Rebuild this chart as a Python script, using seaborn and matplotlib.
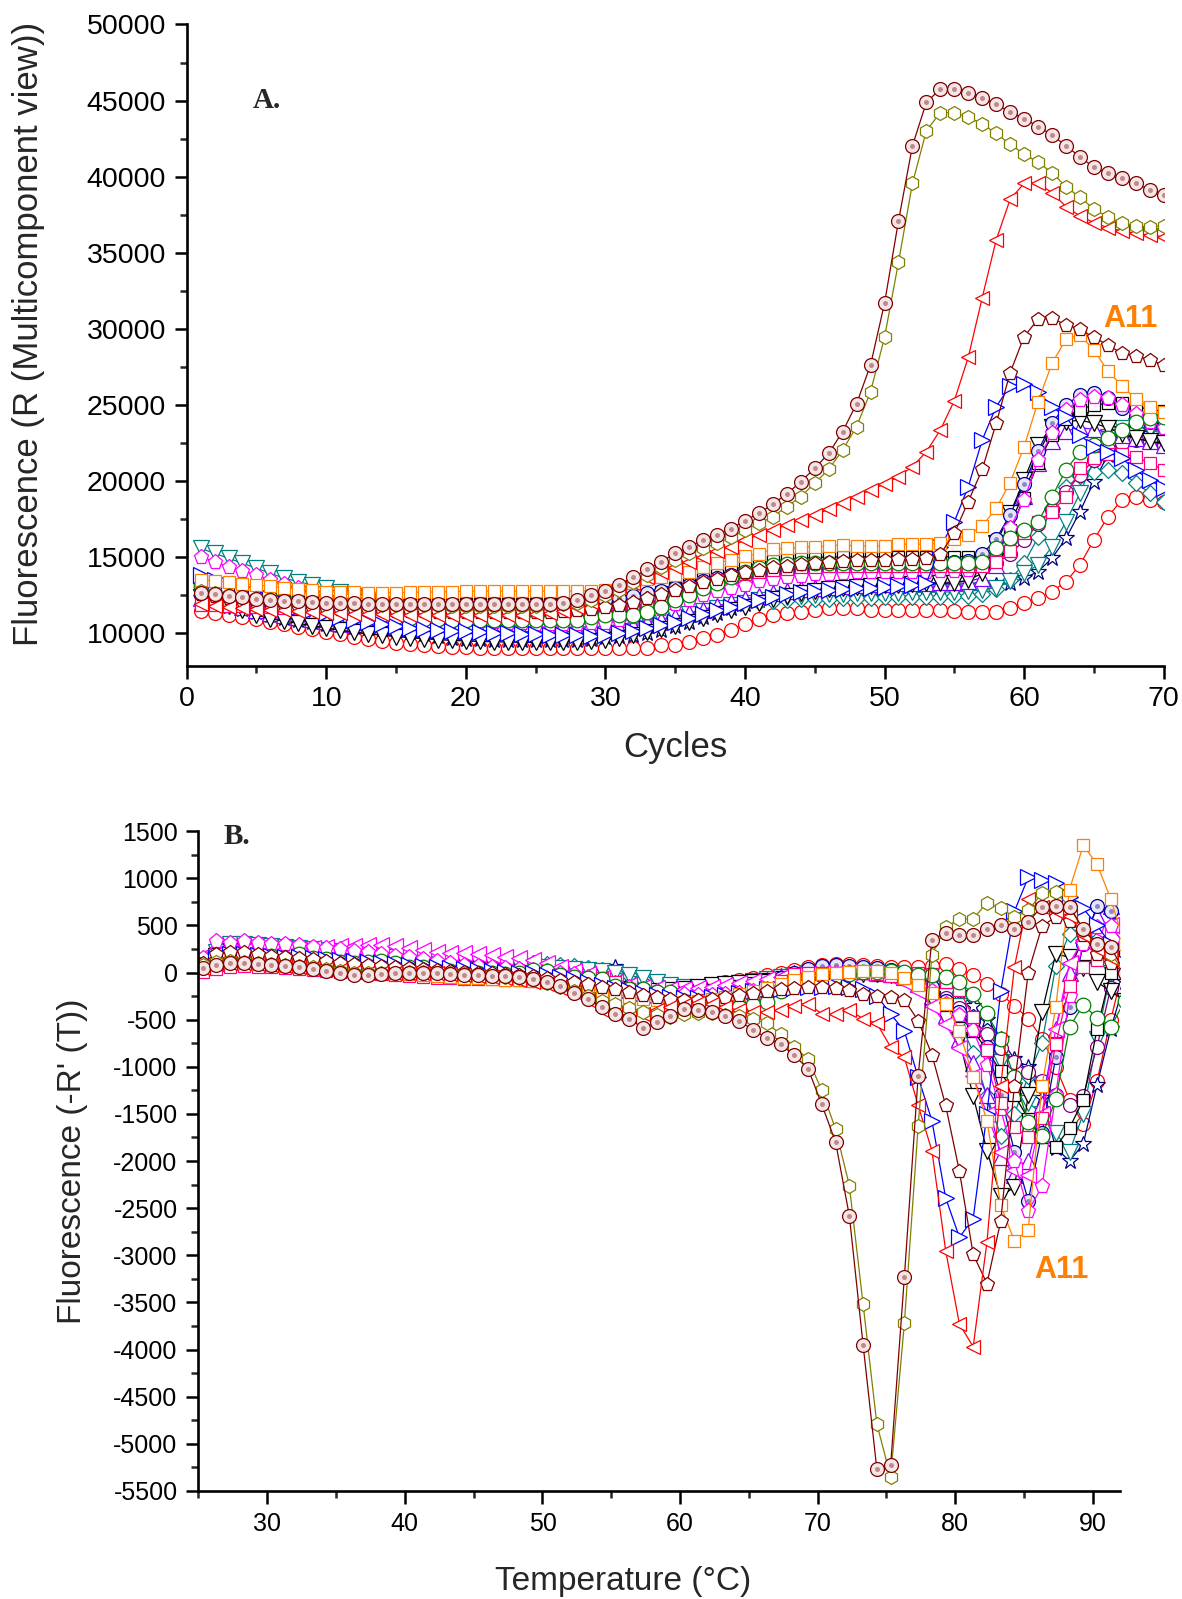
import matplotlib
matplotlib.use("Agg")
import matplotlib.pyplot as plt
from matplotlib.ticker import MultipleLocator
import seaborn as sns

sns.set_style("ticks")
plt.rcParams['font.family'] = ['Liberation Sans', 'DejaVu Sans']
plt.rcParams['axes.unicode_minus'] = False

# ---------------- Panel A data (cycles 1..70) ----------------
cycles = list(range(1, 71))

a_maroon_sphere = [
    12670, 12560, 12450, 12350, 12270, 12200, 12140, 12090, 12040, 12000,
    11980, 11960, 11950, 11940, 11930, 11920, 11920, 11910, 11910, 11900,
    11900, 11900, 11900, 11900, 11920, 11950, 12020, 12190, 12520, 12800,
    13170, 13680, 14200, 14700, 15250, 15690, 16130, 16480, 16870, 17400,
    17880, 18490, 19150, 19960, 20840, 21820, 23250, 25090, 27630, 31680,
    37090, 42030, 44890, 45760, 45760, 45480, 45150, 44770, 44230, 43810,
    43290, 42740, 42020, 41310, 40610, 40220, 39890, 39560, 39120, 38800]
a_olive_hex = [
    12800, 12650, 12520, 12400, 12300, 12220, 12150, 12090, 12040, 12000,
    11960, 11930, 11900, 11880, 11860, 11850, 11840, 11830, 11820, 11810,
    11800, 11800, 11800, 11800, 11810, 11840, 11900, 12000, 12200, 12520,
    12840, 13390, 13830, 14380, 14820, 15250, 15580, 15910, 16300, 16790,
    17220, 17660, 18320, 18980, 19850, 20770, 22040, 23580, 25870, 29440,
    34370, 39560, 43020, 44210, 44210, 43900, 43460, 42850, 42120, 41490,
    40940, 40260, 39340, 38640, 37880, 37330, 36980, 36760, 36720, 36760]
a_red_ltri = [
    11900, 11820, 11750, 11680, 11620, 11560, 11500, 11450, 11400, 11360,
    11320, 11290, 11260, 11240, 11230, 11220, 11210, 11200, 11200, 11200,
    11200, 11200, 11210, 11230, 11270, 11350, 11480, 11700, 12050, 12730,
    13020, 13330, 13720, 14050, 14380, 14710, 15030, 15430, 15690, 16130,
    16460, 16790, 17120, 17440, 17770, 18140, 18580, 18980, 19410, 19800,
    20290, 20950, 21930, 23360, 25280, 28130, 32050, 35840, 38510, 39560,
    39560, 38950, 38030, 37420, 36980, 36650, 36430, 36280, 36150, 36060]
a_maroon_pent = [
    12600, 12450, 12300, 12180, 12070, 11970, 11880, 11800, 11730, 11670,
    11620, 11580, 11540, 11500, 11470, 11450, 11430, 11410, 11400, 11400,
    11400, 11400, 11400, 11400, 11400, 11420, 11450, 11500, 11580, 11700,
    11850, 12050, 12300, 12580, 12850, 13100, 13350, 13580, 13800, 14000,
    14180, 14330, 14450, 14550, 14630, 14690, 14740, 14780, 14810, 14840,
    14870, 14900, 14950, 15200, 16570, 18650, 20770, 23790, 27120, 29490,
    30630, 30690, 30260, 29970, 29440, 28940, 28390, 28220, 27960, 27630]
a_orange_sq = [
    13500, 13450, 13390, 13240, 13170, 13080, 13000, 12930, 12850, 12740,
    12700, 12680, 12660, 12660, 12670, 12680, 12700, 12720, 12740, 12760,
    12760, 12760, 12760, 12760, 12760, 12760, 12770, 12780, 12800, 12840,
    13060, 13280, 13550, 13720, 13830, 14050, 14380, 14600, 14820, 15080,
    15210, 15520, 15580, 15650, 15690, 15740, 15800, 15740, 15740, 15740,
    15850, 15850, 15850, 15950, 16170, 16460, 17050, 18210, 19900, 22260,
    25220, 27740, 29310, 29600, 28610, 27230, 26270, 25390, 24890, 24560]
a_blue_rtri = [
    13800, 13500, 13200, 12900, 12600, 12300, 12000, 11750, 11500, 11300,
    11100, 10900, 10750, 10600, 10450, 10350, 10280, 10220, 10170, 10120,
    10080, 10040, 10000, 9960, 9930, 9900, 9880, 9860, 9850, 9900,
    10000, 10150, 10350, 10550, 10750, 11000, 11250, 11500, 11750, 12000,
    12200, 12400, 12550, 12700, 12800, 12850, 12900, 12950, 13000, 13050,
    13100, 13150, 13300, 15690, 17330, 19630, 22700, 24890, 26250, 26380,
    25880, 24890, 24190, 23030, 22260, 21900, 21500, 20730, 20070, 19520]
a_magenta_pent = [
    15040, 14710, 14380, 14120, 13830, 13500, 13220, 12960, 12670, 12410,
    12190, 11860, 11600, 11400, 11250, 11120, 11020, 10950, 10900, 10860,
    10800, 10750, 10700, 10650, 10620, 10600, 10600, 10620, 10650, 10700,
    10850, 11050, 11300, 11600, 11900, 12200, 12500, 12750, 13000, 13200,
    13400, 13550, 13680, 13780, 13860, 13920, 13960, 14000, 14020, 14040,
    14050, 14050, 14050, 14060, 14080, 14150, 14600, 15500, 16900, 18760,
    21390, 23140, 24670, 25330, 25550, 25440, 25000, 24400, 23900, 23500]
a_navy_sphere = [
    12600, 12500, 12420, 12350, 12280, 12220, 12170, 12120, 12080, 12040,
    12010, 11990, 11970, 11960, 11950, 11940, 11940, 11930, 11930, 11930,
    11930, 11930, 11930, 11940, 11950, 11970, 12000, 12050, 12120, 12200,
    12300, 12450, 12620, 12800, 13000, 13200, 13400, 13600, 13800, 13950,
    14100, 14200, 14300, 14380, 14440, 14480, 14500, 14520, 14540, 14550,
    14560, 14570, 14580, 14600, 14650, 14750, 15200, 16200, 17800, 19800,
    22000, 23800, 25000, 25660, 25810, 25440, 24780, 24300, 23900, 23600]
a_black_dtri = [
    12400, 12100, 11800, 11500, 11200, 10950, 10800, 10650, 10500, 10350,
    10200, 10080, 9970, 9870, 9780, 9700, 9640, 9580, 9530, 9490,
    9460, 9440, 9420, 9410, 9400, 9400, 9420, 9450, 9500, 9580,
    9700, 9860, 10050, 10270, 10500, 10750, 11000, 11250, 11500, 11750,
    12000, 12250, 12450, 12650, 12800, 12900, 12980, 13050, 13100, 13150,
    13200, 13250, 13280, 13280, 13300, 13500, 13940, 15910, 17880, 20070,
    22370, 23580, 23900, 24000, 23800, 23500, 23100, 22810, 22600, 22480]
a_green_circ = [
    13130, 12960, 12850, 12690, 12410, 12300, 12190, 12010, 11860, 11710,
    11580, 11420, 11310, 11200, 11090, 10980, 10950, 10920, 10880, 10870,
    10870, 10870, 10870, 10870, 10870, 10870, 10880, 10900, 11050, 11200,
    11200, 11200, 11420, 11750, 12190, 12520, 12950, 13330, 13720, 14050,
    14270, 14490, 14550, 14600, 14600, 14600, 14600, 14600, 14600, 14600,
    14600, 14600, 14600, 14600, 14600, 14620, 14700, 15580, 16240, 16790,
    17330, 18980, 20730, 21930, 22370, 22810, 23360, 23900, 24120, 24230]
a_violet_utri = [
    12300, 12100, 11900, 11700, 11520, 11350, 11200, 11050, 10920, 10800,
    10700, 10600, 10520, 10450, 10380, 10320, 10270, 10230, 10200, 10170,
    10150, 10130, 10120, 10110, 10100, 10100, 10110, 10130, 10170, 10230,
    10330, 10470, 10650, 10850, 11080, 11320, 11560, 11800, 12030, 12250,
    12450, 12620, 12770, 12890, 12990, 13070, 13130, 13180, 13220, 13250,
    13280, 13300, 13320, 13340, 13360, 13400, 13650, 14500, 16500, 19000,
    21200, 22600, 23300, 23500, 23400, 23200, 23000, 22800, 22600, 22400]
a_purple_circ = [
    12500, 12380, 12260, 12150, 12050, 11960, 11880, 11810, 11750, 11700,
    11650, 11610, 11570, 11540, 11510, 11490, 11470, 11450, 11440, 11430,
    11420, 11410, 11400, 11400, 11400, 11400, 11400, 11410, 11430, 11460,
    11530, 11650, 11820, 12050, 12300, 12560, 12800, 13050, 13280, 13500,
    13700, 13850, 13980, 14080, 14150, 14200, 14230, 14250, 14260, 14270,
    14270, 14270, 14280, 14280, 14290, 14300, 14350, 14600, 15200, 16100,
    17200, 18100, 19300, 20400, 21400, 22100, 22500, 22700, 22600, 22400]
a_crimson_sq = [
    11860, 11840, 11810, 11780, 11750, 11720, 11690, 11660, 11630, 11610,
    11590, 11570, 11560, 11540, 11530, 11520, 11510, 11500, 11500, 11490,
    11490, 11490, 11490, 11490, 11490, 11490, 11490, 11500, 11510, 11530,
    11560, 11700, 11860, 12080, 12500, 12950, 13280, 13500, 13700, 13880,
    14030, 14150, 14250, 14320, 14370, 14400, 14400, 14400, 14400, 14400,
    14400, 14400, 14400, 14400, 14400, 14400, 14450, 14700, 15400, 16570,
    17300, 17990, 18980, 20840, 21490, 21780, 21780, 21600, 21170, 20730]
a_teal_dtri = [
    15580, 15250, 14930, 14600, 14270, 13940, 13610, 13390, 13170, 12950,
    12700, 12450, 12200, 11950, 11700, 11480, 11280, 11100, 10950, 10820,
    10700, 10600, 10520, 10460, 10420, 10400, 10400, 10410, 10440, 10480,
    10550, 10650, 10780, 10930, 11100, 11280, 11470, 11660, 11850, 12020,
    12170, 12300, 12400, 12480, 12540, 12580, 12610, 12630, 12650, 12660,
    12670, 12680, 12690, 12700, 12720, 12760, 12850, 13000, 13400, 13940,
    14490, 15690, 17330, 19200, 21390, 22900, 23500, 23600, 23400, 23100]
a_teal_diam = [
    13300, 13050, 12800, 12570, 12350, 12150, 11950, 11760, 11580, 11420,
    11270, 11120, 10990, 10870, 10760, 10660, 10570, 10490, 10420, 10360,
    10310, 10270, 10240, 10220, 10210, 10210, 10220, 10250, 10290, 10350,
    10430, 10540, 10680, 10840, 11020, 11210, 11400, 11600, 11780, 11940,
    12060, 12150, 12200, 12230, 12250, 12270, 12290, 12310, 12330, 12350,
    12360, 12370, 12380, 12400, 12430, 12480, 12600, 12900, 13500, 14600,
    16300, 18200, 19600, 20300, 20600, 20700, 20500, 19900, 19200, 18600]
a_navy_star = [
    12300, 12050, 11800, 11580, 11380, 11200, 11030, 10880, 10740, 10620,
    10510, 10410, 10330, 10270, 10210, 10080, 9950, 9850, 9720, 9640,
    9600, 9570, 9560, 9560, 9560, 9560, 9560, 9570, 9620, 9780,
    9820, 9880, 10000, 10220, 10490, 10760, 11040, 11310, 11640, 11920,
    12190, 12410, 12630, 12840, 12900, 12930, 12950, 12970, 12990, 13000,
    13010, 13020, 13030, 13040, 13050, 13060, 13080, 13150, 13300, 13610,
    14050, 14930, 16240, 17990, 19960, 21710, 22810, 23030, 23360, 23360]
a_red_circ = [
    11490, 11360, 11200, 11090, 10920, 10760, 10610, 10440, 10260, 10110,
    9950, 9780, 9600, 9520, 9380, 9300, 9230, 9170, 9120, 9080,
    9060, 9010, 9010, 9010, 9010, 9010, 9010, 9010, 9010, 9010,
    9010, 9010, 9010, 9230, 9230, 9450, 9670, 9890, 10220, 10610,
    10920, 11200, 11310, 11420, 11530, 11640, 11640, 11640, 11530, 11530,
    11530, 11530, 11530, 11530, 11480, 11420, 11420, 11420, 11640, 11970,
    12300, 12740, 13390, 14490, 16130, 17660, 18760, 18980, 18760, 18650]
a_black_sq = [
    12800, 12650, 12520, 12400, 12300, 12220, 12150, 12090, 12040, 12000,
    11970, 11950, 11930, 11920, 11910, 11900, 11900, 11900, 11900, 11900,
    11900, 11900, 11900, 11900, 11900, 11900, 11900, 11920, 11950, 12000,
    12100, 12250, 12450, 12700, 12950, 13250, 13550, 13850, 14150, 14400,
    14600, 14750, 14850, 14920, 14980, 15000, 15020, 15030, 15030, 15030,
    15030, 15030, 15030, 15030, 15030, 15040, 15100, 15500, 16800, 18900,
    21200, 23000, 24100, 24700, 25000, 25100, 25100, 24900, 24700, 24600]

# ---------------- Panel B data (temperature, deg C) ----------------
temps = [25.3, 26.3, 27.3, 28.3, 29.3,
         30.3, 31.3, 32.3, 33.3, 34.3, 35.3, 36.3, 37.3, 38.3, 39.3,
         40.3, 41.3, 42.3, 43.3, 44.3, 45.3, 46.3, 47.3, 48.3, 49.3,
         50.3, 51.3, 52.3, 53.3, 54.3, 55.3, 56.3, 57.3, 58.3, 59.3,
         60.3, 61.3, 62.3, 63.3, 64.3, 65.3, 66.3, 67.3, 68.3, 69.3,
         70.3, 71.3, 72.3, 73.3, 74.3, 75.3, 76.3, 77.3, 78.3, 79.3,
         80.3, 81.3, 82.3, 83.3, 84.3, 85.3, 86.3, 87.3, 88.3, 89.3,
         90.3, 91.3, 92.3]

b_maroon_sphere = [50, 80, 100, 100, 90,
    80, 70, 60, 40, 20, 0, -30, -30, -20, -10,
    0, 0, -10, -20, -30, -30, -40, -40, -50, -70,
    -100, -140, -220, -280, -370, -440, -490, -590, -530, -460,
    -390, -400, -420, -460, -510, -610, -690, -760, -880, -1020,
    -1400, -1800, -2580, -3950, -5270, -5230, -3230, -1100, 350, 420,
    400, 400, 460, 500, 460, 540, 700, 710, 700, 460,
    300, 270, 0]
b_olive_hex = [80, 110, 120, 110, 100,
    90, 80, 70, 60, 40, 20, 0, -10, -10, 0,
    10, 10, 0, -10, -20, -30, -40, -50, -60, -80,
    -110, -150, -200, -250, -300, -330, -380, -420, -450, -470,
    -440, -430, -430, -450, -460, -490, -540, -650, -790, -920,
    -1250, -1660, -2260, -3520, -4790, -5350, -3720, -1630, 190, 480,
    570, 570, 740, 680, 590, 660, 840, 850, 700, 450,
    300, 200, 0]
b_red_ltri = [50, 90, 100, 100, 90,
    80, 70, 60, 50, 40, 30, 10, 0, 0, 0,
    0, 0, -10, -20, -30, -40, -50, -60, -80, -100,
    -120, -160, -210, -290, -400, -430, -460, -440, -400, -370,
    -340, -320, -330, -370, -400, -420, -420, -400, -360, -330,
    -440, -440, -400, -490, -540, -790, -900, -1410, -1890, -2950,
    -3730, -3970, -2860, -1200, 60, 780, 700, 650, 600, 400,
    250, 150, 0]
b_maroon_pent = [100, 200, 220, 220, 200,
    180, 160, 150, 140, 120, 100, 90, 80, 70, 60,
    50, 40, 30, 20, 10, 0, -10, -20, -30, -40,
    -60, -80, -100, -120, -150, -180, -210, -240, -260, -280,
    -290, -290, -280, -260, -240, -220, -200, -180, -160, -150,
    -150, -160, -190, -230, -250, -260, -290, -510, -870, -1410,
    -2110, -2990, -3300, -2640, -1200, 0, 490, 590, 550, 400,
    200, 100, 0]
b_orange_sq = [80, 100, 110, 100, 90,
    80, 70, 60, 50, 40, 30, 20, 10, 0, -10,
    -20, -30, -40, -50, -60, -60, -70, -80, -80, -90,
    -100, -110, -130, -160, -200, -230, -260, -280, -290, -300,
    -310, -300, -280, -260, -230, -200, -160, -120, -80, -50,
    -20, 0, 10, 20, 20, 0, -60, -130, -220, -330,
    -620, -1110, -1570, -2470, -2850, -2730, -1200, -370, 880, 1350,
    1150, 780, 300]
b_blue_rtri = [100, 150, 200, 200, 190,
    180, 170, 160, 150, 140, 130, 120, 110, 100, 90,
    80, 70, 60, 50, 40, 30, 20, 10, 0, -10,
    -30, -50, -70, -100, -130, -160, -190, -220, -240, -260,
    -270, -270, -260, -240, -220, -200, -180, -170, -160, -150,
    -150, -140, -150, -175, -245, -440, -620, -1110, -1570, -2390,
    -2810, -2610, -1500, -200, 650, 1010, 980, 950, 800, 680,
    500, 300, 100]
b_black_dtri = [100, 180, 250, 260, 250,
    230, 220, 200, 180, 160, 150, 140, 130, 120, 100,
    90, 80, 70, 60, 50, 40, 30, 20, 10, 0,
    -20, -40, -60, -90, -120, -150, -180, -200, -200, -190,
    -170, -150, -130, -120, -110, -100, -90, -80, -70, -60,
    -50, -40, -30, -20, -20, -30, -60, -130, -280, -490,
    -720, -1310, -1890, -2370, -2280, -1300, -420, 200, 160, 50,
    -100, -200, -300]
b_green_circ = [64, 143, 118, 189, 143,
    171, 154, 200, 154, 143, 107, 100, 107, 118, 100,
    64, 64, 21, 11, -7, 0, -7, -14, -7, 29,
    11, -25, -43, -61, -68, -139, -175, -175, -210, -210,
    -298, -334, -369, -422, -369, -341, -316, -192, -122, -68,
    -68, -33, -15, 2, 2, 20, 10, -22, -22, -51,
    -104, -228, -433, -705, -1112, -1590, -1732, -1343, -581, -341,
    -482, -581, -300]
b_crimson_sq = [10, 40, 60, 70, 60,
    60, 50, 40, 30, 20, 10, 0, -10, -20, -30,
    -40, -50, -60, -60, -70, -70, -70, -80, -80, -90,
    -100, -110, -120, -130, -60, -100, -180, -190, -240, -300,
    -300, -290, -390, -340, -330, -320, -260, -90, -20, 0,
    0, 0, 2, 0, -20, -40, -20, -10, -20, -100,
    -190, -470, -820, -1380, -1640, -1750, -1540, -760, -140, 60,
    130, 180, 100]
b_magenta_pent = [150, 330, 310, 330, 310,
    300, 300, 290, 270, 260, 250, 230, 220, 200, 180,
    160, 140, 120, 100, 80, 70, 60, 50, 40, 30,
    20, 0, -20, -50, -80, -110, -150, -180, -200, -220,
    -230, -240, -240, -230, -220, -200, -170, -130, -90, -50,
    -30, -10, 0, 0, -10, -30, -60, -120, -200, -330,
    -450, -610, -980, -1450, -2000, -2530, -2270, -1300, -245, 300,
    480, 490, 300]
b_magenta_ltri = [180, 200, 220, 230, 240,
    250, 250, 250, 260, 270, 280, 280, 290, 290, 280,
    260, 240, 220, 210, 210, 200, 190, 170, 150, 130,
    100, 60, 20, -20, -60, -100, -130, -150, -160, -170,
    -170, -160, -150, -130, -110, -90, -70, -50, -30, -20,
    -10, 0, 10, 0, -20, -50, -100, -200, -350, -550,
    -800, -1100, -1500, -1900, -2100, -2150, -1500, -600, 100, 350,
    450, 500, 300]
b_navy_sphere = [100, 170, 230, 240, 230,
    220, 200, 190, 170, 150, 140, 130, 120, 110, 100,
    90, 80, 70, 60, 50, 40, 30, 20, 10, 0,
    -20, -40, -70, -100, -130, -160, -190, -210, -230, -250,
    -260, -260, -250, -230, -200, -160, -110, -60, -10, 40,
    70, 80, 70, 60, 50, 30, 0, -60, -150, -300,
    -420, -510, -790, -1300, -1900, -2420, -1700, -900, -370, 300,
    710, 650, 300]
b_violet_utri = [120, 200, 250, 260, 250,
    240, 230, 220, 200, 190, 180, 170, 160, 150, 140,
    130, 120, 110, 100, 80, 60, 50, 40, 30, 20,
    0, -20, -40, -70, -100, -140, -170, -200, -220, -230,
    -230, -220, -200, -170, -140, -110, -80, -50, -20, 0,
    20, 30, 30, 20, 0, -20, -50, -120, -250, -450,
    -700, -960, -1300, -1960, -2150, -2000, -1400, -600, 0, 400,
    600, 710, 300]
b_navy_star = [120, 230, 280, 280, 270,
    260, 240, 220, 200, 190, 180, 170, 160, 150, 140,
    130, 120, 110, 100, 90, 80, 70, 60, 50, 40,
    30, 20, 10, 0, 30, 60, -50, -120, -180, -220,
    -240, -240, -230, -200, -160, -120, -80, -40, -10, 20,
    30, 40, 40, 30, 20, 10, -10, -40, -80, -140,
    -220, -350, -500, -700, -920, -1000, -1330, -1860, -2000, -1820,
    -1190, -600, -100]
b_teal_diam = [100, 180, 220, 240, 240,
    230, 220, 210, 200, 190, 180, 170, 170, 160, 160,
    150, 150, 140, 140, 130, 130, 120, 120, 110, 100,
    90, 80, 70, 50, 30, 0, -30, -70, -110, -150,
    -180, -200, -200, -180, -150, -120, -90, -60, -30, 0,
    20, 30, 40, 40, 30, 0, -50, -120, -200, -300,
    -510, -850, -1310, -1730, -1500, -1100, -750, 70, 410, 450,
    350, 250, 100]
b_teal_dtri = [120, 220, 300, 300, 290,
    280, 270, 260, 250, 240, 230, 220, 200, 180, 170,
    160, 150, 140, 130, 120, 110, 100, 90, 80, 70,
    60, 50, 40, 30, 20, 0, -30, -60, -100, -130,
    -150, -160, -150, -130, -110, -90, -70, -50, -30, -10,
    0, 10, 20, 20, 10, -10, -50, -100, -170, -250,
    -350, -500, -700, -950, -1250, -1380, -1500, -1700, -1900, -1500,
    -700, 0, 200]
b_purple_circ = [80, 150, 200, 210, 200,
    190, 180, 170, 160, 150, 140, 130, 120, 110, 100,
    90, 80, 70, 60, 50, 40, 30, 20, 10, 0,
    -20, -40, -60, -80, -110, -140, -170, -190, -210, -230,
    -240, -240, -230, -210, -180, -150, -110, -70, -30, 0,
    20, 30, 30, 20, 10, -10, -40, -90, -170, -270,
    -380, -500, -650, -800, -950, -1060, -1150, -1300, -1410, -1310,
    -790, -160, 200]
b_red_circ = [100, 130, 140, 130, 110,
    100, 90, 80, 70, 60, 50, 40, 30, 30, 20,
    20, 10, 10, 0, 0, -10, -10, -20, -20, -30,
    -40, -60, -80, -110, -140, -170, -200, -210, -200, -180,
    -160, -140, -120, -100, -80, -60, -30, 0, 30, 60,
    80, 90, 90, 80, 70, 60, 60, 60, 70, 90,
    40, -30, -120, -230, -350, -490, -700, -1000, -1350, -1610,
    -1150, -500, 100]
b_black_sq = [90, 150, 200, 220, 210,
    200, 190, 180, 170, 160, 150, 140, 130, 120, 110,
    100, 90, 80, 70, 60, 50, 40, 30, 20, 10,
    0, -20, -40, -70, -100, -130, -160, -190, -210, -220,
    -220, -210, -190, -170, -140, -110, -80, -50, -20, 0,
    10, 20, 20, 10, 0, -20, -50, -110, -200, -320,
    -460, -620, -820, -1050, -1300, -1550, -1750, -1850, -1650, -1350,
    -600, 0, 200]

# ---------------- styles (colour, marker, size, face, centre dot) ----------------
SPH_R = ('#f4e6e6', '#c08a8a')
SPH_B = ('#e6e6f6', '#8a8ac8')
styles = {
    'red_circ':      ('#FF0000', 'o', 10.0, 'white', None),
    'navy_star':     ('#000080', '*', 12.0, 'white', None),
    'teal_diam':     ('#008080', 'D', 8.5, 'white', None),
    'teal_dtri':     ('#008080', 'v', 11.0, 'white', None),
    'purple_circ':   ('#800080', 'o', 10.0, 'white', None),
    'violet_utri':   ('#8000FF', '^', 11.0, 'white', None),
    'black_dtri':    ('#000000', 'v', 11.0, 'white', None),
    'black_sq':      ('#000000', 's', 9.0, 'white', None),
    'navy_sphere':   ('#0000A0', 'o', 10.0, SPH_B[0], SPH_B[1]),
    'magenta_pent':  ('#FF00FF', 'p', 11.0, 'white', None),
    'magenta_ltri':  ('#FF00FF', '<', 11.0, 'white', None),
    'crimson_sq':    ('#FF0080', 's', 9.0, 'white', None),
    'green_circ':    ('#008000', 'o', 10.5, 'white', None),
    'blue_rtri':     ('#0000FF', '>', 11.0, 'white', None),
    'orange_sq':     ('#FF8000', 's', 8.5, 'white', None),
    'maroon_pent':   ('#800000', 'p', 10.0, 'white', None),
    'red_ltri':      ('#FF0000', '<', 10.5, 'white', None),
    'olive_hex':     ('#808000', 'h', 10.0, 'white', None),
    'maroon_sphere': ('#800000', 'o', 10.0, SPH_R[0], SPH_R[1]),
}

series_a = [
    ('red_circ', a_red_circ), ('navy_star', a_navy_star), ('teal_diam', a_teal_diam),
    ('teal_dtri', a_teal_dtri), ('purple_circ', a_purple_circ), ('violet_utri', a_violet_utri),
    ('black_dtri', a_black_dtri), ('black_sq', a_black_sq), ('navy_sphere', a_navy_sphere),
    ('magenta_pent', a_magenta_pent), ('crimson_sq', a_crimson_sq), ('green_circ', a_green_circ),
    ('blue_rtri', a_blue_rtri), ('orange_sq', a_orange_sq), ('maroon_pent', a_maroon_pent),
    ('red_ltri', a_red_ltri), ('olive_hex', a_olive_hex), ('maroon_sphere', a_maroon_sphere),
]
series_b = [
    ('red_circ', b_red_circ), ('navy_star', b_navy_star), ('teal_diam', b_teal_diam),
    ('teal_dtri', b_teal_dtri), ('purple_circ', b_purple_circ), ('violet_utri', b_violet_utri),
    ('black_dtri', b_black_dtri), ('black_sq', b_black_sq), ('navy_sphere', b_navy_sphere),
    ('magenta_ltri', b_magenta_ltri), ('magenta_pent', b_magenta_pent), ('crimson_sq', b_crimson_sq),
    ('green_circ', b_green_circ), ('blue_rtri', b_blue_rtri), ('orange_sq', b_orange_sq),
    ('maroon_pent', b_maroon_pent), ('red_ltri', b_red_ltri), ('olive_hex', b_olive_hex),
    ('maroon_sphere', b_maroon_sphere),
]


def draw(ax, x, y, key):
    col, mk, ms, face, dot = styles[key]
    sns.lineplot(x=x, y=y, ax=ax, color=col, marker=mk, markersize=ms,
                 markeredgecolor=col, markerfacecolor=face, markeredgewidth=0.9,
                 linewidth=0.9, estimator=None, sort=False, legend=False)
    if dot is not None:
        ax.plot(x, y, linestyle='none', marker='o', markersize=3.6, color=dot,
                markeredgewidth=0)


def style_axis(ax, size):
    sns.despine(ax=ax)
    for s in ('left', 'bottom'):
        ax.spines[s].set_linewidth(1.9)
        ax.spines[s].set_color('black')
    ax.tick_params(which='major', direction='out', length=9, width=1.8,
                   labelsize=size, colors='black', pad=6)
    ax.tick_params(which='minor', direction='out', length=5, width=1.8)
    ax.grid(False)


fig = plt.figure(figsize=(11.82, 15.99), dpi=100)

# ---------- Panel A ----------
axA = fig.add_axes([0.1579, 0.5837, 0.8266, 0.4010])
for key, vals in series_a:
    draw(axA, cycles, vals, key)
axA.set_xlim(0, 70)
axA.set_ylim(7870, 50000)
axA.xaxis.set_major_locator(MultipleLocator(10))
axA.xaxis.set_minor_locator(MultipleLocator(5))
axA.yaxis.set_major_locator(MultipleLocator(5000))
axA.yaxis.set_minor_locator(MultipleLocator(2500))
style_axis(axA, 20.5)
axA.set_xlabel('Cycles', fontsize=25)
axA.set_ylabel('Fluorescence (R (Multicomponent view))', fontsize=25)
axA.xaxis.label.set_va('center')
axA.yaxis.label.set_va('center')
axA.xaxis.set_label_coords(0.5, -0.1276)
axA.yaxis.set_label_coords(-0.1618, 0.517)

# ---------- Panel B ----------
axB = fig.add_axes([0.1679, 0.0676, 0.7800, 0.4126])
for key, vals in series_b:
    draw(axB, temps, vals, key)
axB.set_xlim(25, 92)
axB.set_ylim(-5500, 1500)
axB.xaxis.set_major_locator(MultipleLocator(10))
axB.xaxis.set_minor_locator(MultipleLocator(5))
axB.yaxis.set_major_locator(MultipleLocator(500))
axB.yaxis.set_minor_locator(MultipleLocator(250))
style_axis(axB, 18)
axB.set_xlabel('Temperature (°C)', fontsize=24)
axB.set_ylabel("Fluorescence (-R' (T))", fontsize=24)
axB.xaxis.label.set_va('center')
axB.yaxis.label.set_va('center')
axB.xaxis.set_label_coords(0.461, -0.1366)
axB.yaxis.set_label_coords(-0.137, 0.5)

# ---------- annotations ----------
W, H = 1182.0, 1599.0
fig.text(267 / W, 1 - 101 / H, 'A.', family=['Liberation Serif', 'DejaVu Serif'],
         fontweight='bold', fontsize=21, ha='center', va='center')
fig.text(237 / W, 1 - 837 / H, 'B.', family=['Liberation Serif', 'DejaVu Serif'],
         fontweight='bold', fontsize=21, ha='center', va='center')
fig.text(1130 / W, 1 - 319 / H, 'A11', color='#FF8000', fontweight='bold',
         fontsize=22, ha='center', va='center')
fig.text(1061 / W, 1 - 1270 / H, 'A11', color='#FF8000', fontweight='bold',
         fontsize=22, ha='center', va='center')

fig.savefig('out.png', dpi=100, facecolor='white')
